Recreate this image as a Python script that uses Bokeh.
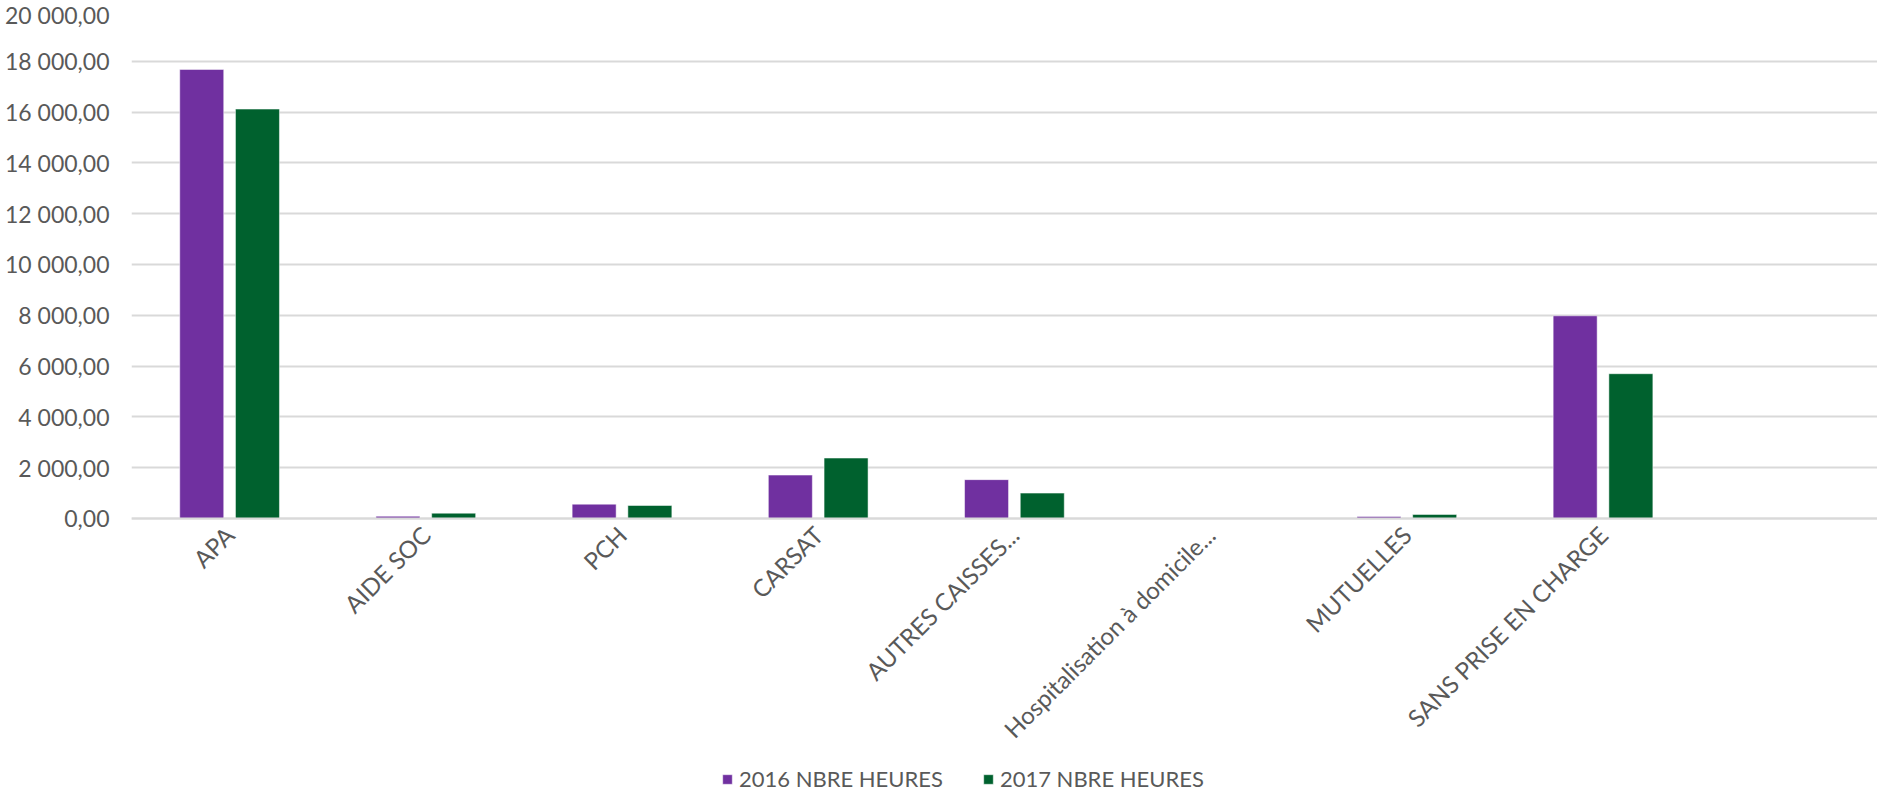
import math
from bokeh.plotting import figure
from bokeh.models import Range1d, FixedTicker, Legend, LegendItem, ColumnDataSource
from bokeh.transform import dodge
from bokeh.embed import file_html
from bokeh.resources import INLINE

categories = ["APA", "AIDE SOC", "PCH", "CARSAT", "AUTRES CAISSES...",
              "Hospitalisation à domicile...", "MUTUELLES", "SANS PRISE EN CHARGE"]
heures_2016 = [17680, 90, 565, 1710, 1530, 0, 80, 7980]
heures_2017 = [16120, 210, 512, 2380, 1000, 0, 160, 5700]
series_labels = ["2016 NBRE HEURES", "2017 NBRE HEURES"]
series_colors = ["#7030A0", "#00612E"]
y_ticks = [0, 2000, 4000, 6000, 8000, 10000, 12000, 14000, 16000, 18000, 20000]
y_tick_labels = ["0,00", "2 000,00", "4 000,00", "6 000,00", "8 000,00", "10 000,00",
                 "12 000,00", "14 000,00", "16 000,00", "18 000,00", "20 000,00"]

FONT = "Lato"
TXT = "#595959"

src = ColumnDataSource(dict(x=list(range(len(categories))), a=heures_2016, b=heures_2017))

# frame: top at 20 000, extends below 0 so the rotated labels and legend sit inside it
p = figure(width=1877, height=793, x_range=Range1d(-0.5, 8.399), y_range=Range1d(-10827, 20000),
           output_backend="svg", toolbar_location=None,
           min_border_left=131, min_border_right=0, min_border_top=10, min_border_bottom=0)
p.outline_line_color = None
p.background_fill_color = "white"
p.border_fill_color = "white"

bw = 0.2243
off = 0.142
r1 = p.vbar(x=dodge("x", -off, range=p.x_range), top="a", width=bw, source=src,
            fill_color=series_colors[0], line_color="white", line_alpha=0.5, line_width=1)
r2 = p.vbar(x=dodge("x", off, range=p.x_range), top="b", width=bw, source=src,
            fill_color=series_colors[1], line_color="white", line_alpha=0.5, line_width=1)

# y axis
p.yaxis.ticker = FixedTicker(ticks=y_ticks)
p.yaxis.major_label_overrides = {t: l for t, l in zip(y_ticks, y_tick_labels)}
p.yaxis.axis_line_color = None
p.yaxis.major_tick_line_color = None
p.yaxis.minor_tick_line_color = None
p.yaxis.major_tick_out = 0
p.yaxis.major_label_standoff = 22
p.yaxis.major_label_text_font = FONT
p.yaxis.major_label_text_font_size = "23px"
p.yaxis.major_label_text_color = TXT
p.ygrid.grid_line_color = "#d9d9d9"
p.ygrid.grid_line_width = 2

# x axis, pinned at value 0
p.xgrid.visible = False
p.xaxis.fixed_location = 0
p.xaxis.ticker = FixedTicker(ticks=list(range(len(categories))))
p.xaxis.major_label_overrides = {i: c for i, c in enumerate(categories)}
p.xaxis.major_label_orientation = math.pi / 4
p.xaxis.axis_line_color = "#d9d9d9"
p.xaxis.axis_line_width = 2
p.xaxis.major_tick_line_color = None
p.xaxis.minor_tick_line_color = None
p.xaxis.major_tick_out = 0
p.xaxis.major_tick_in = 0
p.xaxis.major_label_standoff = 12
p.xaxis.major_label_text_font = FONT
p.xaxis.major_label_text_font_size = "24px"
p.xaxis.major_label_text_color = TXT

legend = Legend(items=[LegendItem(label=series_labels[0], renderers=[r1]),
                       LegendItem(label=series_labels[1], renderers=[r2])],
                orientation="horizontal", location=(590, 1),
                glyph_width=12, glyph_height=12, label_standoff=6, spacing=39,
                padding=0, margin=0, border_line_color=None, background_fill_alpha=0,
                label_text_font=FONT, label_text_font_size="22px", label_text_color=TXT,
                label_height=12)
p.add_layout(legend, "center")

open("out.html", "w").write(file_html(p, INLINE))
